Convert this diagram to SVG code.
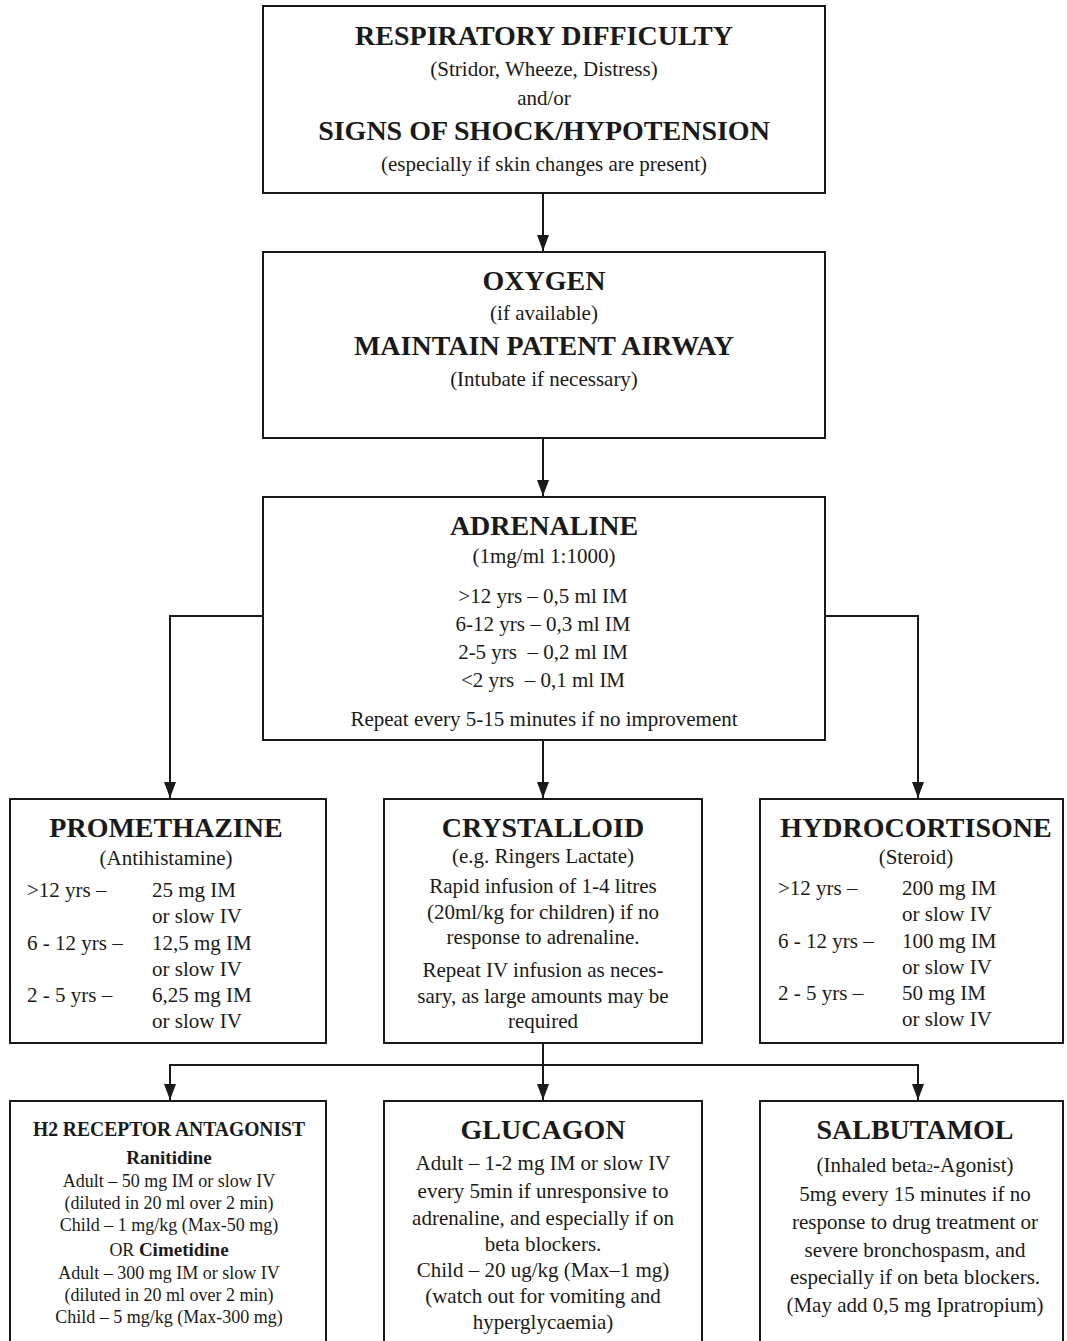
<svg xmlns="http://www.w3.org/2000/svg" width="1067" height="1341" viewBox="0 0 1067 1341">
<defs>
<marker id="arr" markerUnits="userSpaceOnUse" markerWidth="16" markerHeight="12" refX="16" refY="6" orient="auto" viewBox="0 0 16 12">
<path d="M0,0 L16,6 L0,12 Z" fill="#1a1a1a"/>
</marker>
<style>
.box{fill:#fff;stroke:#1a1a1a;stroke-width:2}
.ln{fill:none;stroke:#1a1a1a;stroke-width:2}
text{font-family:"Liberation Serif","Times New Roman",serif;fill:#1a1a1a}
.t{font-size:28px;font-weight:bold;text-anchor:middle}
.r{font-size:21px;text-anchor:middle}
.l{font-size:21px}
.s{font-size:18px;text-anchor:middle}
.sb{font-size:19px;font-weight:bold}
</style>
</defs>
<rect width="1067" height="1341" fill="#fff"/>
<g id="connectors">
<line class="ln" x1="543" y1="193" x2="543" y2="251" marker-end="url(#arr)"/>
<line class="ln" x1="543" y1="438" x2="543" y2="496" marker-end="url(#arr)"/>
<line class="ln" x1="543" y1="740" x2="543" y2="798" marker-end="url(#arr)"/>
<polyline class="ln" points="263,616 170,616 170,798" marker-end="url(#arr)"/>
<polyline class="ln" points="825,616 918,616 918,798" marker-end="url(#arr)"/>
<line class="ln" x1="543" y1="1043" x2="543" y2="1100" marker-end="url(#arr)"/>
<line class="ln" x1="169" y1="1065" x2="919" y2="1065"/>
<line class="ln" x1="170" y1="1065" x2="170" y2="1100" marker-end="url(#arr)"/>
<line class="ln" x1="918" y1="1065" x2="918" y2="1100" marker-end="url(#arr)"/>
</g>
<g id="n-respiratory">
<rect class="box" x="263" y="6" width="562" height="187"/>
<text class="t" x="544" y="45">RESPIRATORY DIFFICULTY</text>
<text class="r" x="544" y="76">(Stridor, Wheeze, Distress)</text>
<text class="r" x="544" y="105">and/or</text>
<text class="t" x="544" y="140">SIGNS OF SHOCK/HYPOTENSION</text>
<text class="r" x="544" y="171">(especially if skin changes are present)</text>
</g>
<g id="n-oxygen">
<rect class="box" x="263" y="252" width="562" height="186"/>
<text class="t" x="544" y="290">OXYGEN</text>
<text class="r" x="544" y="320">(if available)</text>
<text class="t" x="544" y="355">MAINTAIN PATENT AIRWAY</text>
<text class="r" x="544" y="386">(Intubate if necessary)</text>
</g>
<g id="n-adrenaline">
<rect class="box" x="263" y="497" width="562" height="243"/>
<text class="t" x="544" y="535">ADRENALINE</text>
<text class="r" x="544" y="563">(1mg/ml 1:1000)</text>
<text class="r" x="543" y="603">&gt;12 yrs – 0,5 ml IM</text>
<text class="r" x="543" y="631">6-12 yrs – 0,3 ml IM</text>
<text class="r" x="543" y="659" xml:space="preserve">2-5 yrs  – 0,2 ml IM</text>
<text class="r" x="543" y="687" xml:space="preserve">&lt;2 yrs  – 0,1 ml IM</text>
<text class="r" x="544" y="726">Repeat every 5-15 minutes if no improvement</text>
</g>
<g id="n-promethazine">
<rect class="box" x="10" y="799" width="316" height="244"/>
<text class="t" x="166" y="837">PROMETHAZINE</text>
<text class="r" x="166" y="865">(Antihistamine)</text>
<text class="l" x="27" y="897">&gt;12 yrs –</text>
<text class="l" x="152" y="897">25 mg IM</text>
<text class="l" x="152" y="923">or slow IV</text>
<text class="l" x="27" y="950">6 - 12 yrs –</text>
<text class="l" x="152" y="950">12,5 mg IM</text>
<text class="l" x="152" y="976">or slow IV</text>
<text class="l" x="27" y="1002">2 - 5 yrs –</text>
<text class="l" x="152" y="1002">6,25 mg IM</text>
<text class="l" x="152" y="1028">or slow IV</text>
</g>
<g id="n-crystalloid">
<rect class="box" x="384" y="799" width="318" height="244"/>
<text class="t" x="543" y="837">CRYSTALLOID</text>
<text class="r" x="543" y="863">(e.g. Ringers Lactate)</text>
<text class="r" x="543" y="893">Rapid infusion of 1-4 litres</text>
<text class="r" x="543" y="919">(20ml/kg for children) if no</text>
<text class="r" x="543" y="944">response to adrenaline.</text>
<text class="r" x="543" y="977">Repeat IV infusion as neces-</text>
<text class="r" x="543" y="1003">sary, as large amounts may be</text>
<text class="r" x="543" y="1028">required</text>
</g>
<g id="n-hydrocortisone">
<rect class="box" x="760" y="799" width="303" height="244"/>
<text class="t" x="916" y="837">HYDROCORTISONE</text>
<text class="r" x="916" y="864">(Steroid)</text>
<text class="l" x="778" y="895">&gt;12 yrs –</text>
<text class="l" x="902" y="895">200 mg IM</text>
<text class="l" x="902" y="921">or slow IV</text>
<text class="l" x="778" y="948">6 - 12 yrs –</text>
<text class="l" x="902" y="948">100 mg IM</text>
<text class="l" x="902" y="974">or slow IV</text>
<text class="l" x="778" y="1000">2 - 5 yrs –</text>
<text class="l" x="902" y="1000">50 mg IM</text>
<text class="l" x="902" y="1026">or slow IV</text>
</g>
<g id="n-h2">
<rect class="box" x="10" y="1101" width="316" height="250"/>
<text x="169" y="1136" font-size="22" font-weight="bold" text-anchor="middle" textLength="272" lengthAdjust="spacingAndGlyphs">H2 RECEPTOR ANTAGONIST</text>
<text class="sb" x="169" y="1164" text-anchor="middle">Ranitidine</text>
<text class="s" x="169" y="1187">Adult – 50 mg IM or slow IV</text>
<text class="s" x="169" y="1209">(diluted in 20 ml over 2 min)</text>
<text class="s" x="169" y="1231">Child – 1 mg/kg (Max-50 mg)</text>
<text class="s" x="169" y="1256">OR <tspan font-weight="bold" font-size="19">Cimetidine</tspan></text>
<text class="s" x="169" y="1279">Adult – 300 mg IM or slow IV</text>
<text class="s" x="169" y="1301">(diluted in 20 ml over 2 min)</text>
<text class="s" x="169" y="1323">Child – 5 mg/kg (Max-300 mg)</text>
</g>
<g id="n-glucagon">
<rect class="box" x="384" y="1101" width="318" height="250"/>
<text class="t" x="543" y="1139">GLUCAGON</text>
<text class="r" x="543" y="1170">Adult – 1-2 mg IM or slow IV</text>
<text class="r" x="543" y="1198">every 5min if unresponsive to</text>
<text class="r" x="543" y="1225">adrenaline, and especially if on</text>
<text class="r" x="543" y="1251">beta blockers.</text>
<text class="r" x="543" y="1277">Child – 20 ug/kg (Max–1 mg)</text>
<text class="r" x="543" y="1303">(watch out for vomiting and</text>
<text class="r" x="543" y="1329">hyperglycaemia)</text>
</g>
<g id="n-salbutamol">
<rect class="box" x="760" y="1101" width="303" height="250"/>
<text class="t" x="915" y="1139">SALBUTAMOL</text>
<text class="r" x="915" y="1172">(Inhaled beta<tspan font-size="13">2</tspan>-Agonist)</text>
<text class="r" x="915" y="1201">5mg every 15 minutes if no</text>
<text class="r" x="915" y="1229">response to drug treatment or</text>
<text class="r" x="915" y="1257">severe bronchospasm, and</text>
<text class="r" x="915" y="1284">especially if on beta blockers.</text>
<text class="r" x="915" y="1312">(May add 0,5 mg Ipratropium)</text>
</g>
</svg>
